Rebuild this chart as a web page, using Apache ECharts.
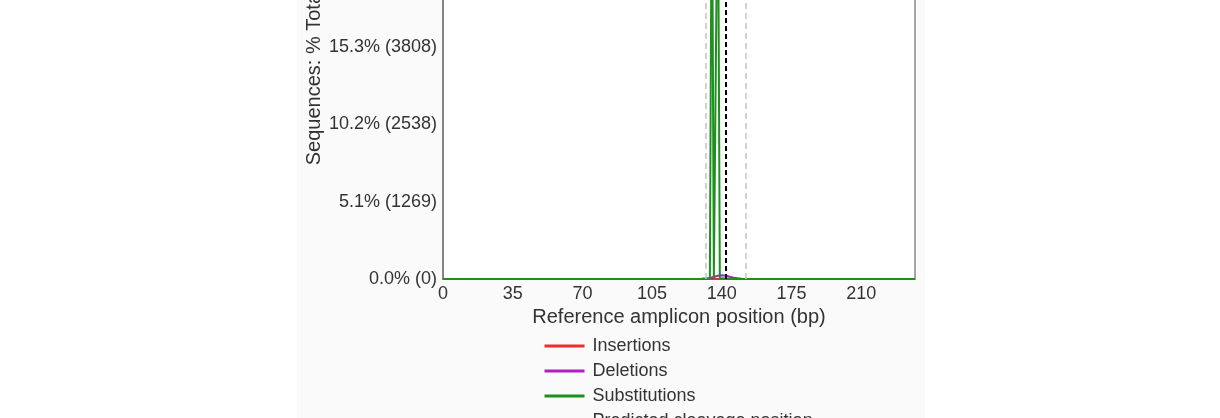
<!DOCTYPE html>
<html>
<head>
<meta charset="UTF-8">
<title></title>
<script src="https://cdn.jsdelivr.net/npm/echarts@6/dist/echarts.min.js"></script>
<style>
  html, body { margin: 0; padding: 0; background: #fff; }
  #main { width: 1220px; height: 418px; }
</style>
</head>
<body>
<div id="main"></div>
<script>
// positions (bp) and read counts
var insPos = [0, 130, 138, 140, 142, 150, 237];
var insVal = [0, 0, 2, 3, 2, 0, 0];

var delPos = [0, 126, 130, 132, 134, 136, 137, 138, 139, 140, 141, 142, 143, 144, 146, 148, 150, 153, 156, 237];
var delVal = [0, 0, 4, 9, 18, 32, 42, 52, 58, 62, 60, 54, 46, 36, 22, 12, 6, 2, 0, 0];

var subPos = [0, 126, 130, 132, 133, 134, 135, 136, 137, 138, 139, 140, 142, 145, 150, 155, 237];
var subVal = [0, 0, 3, 5, 8, 10, 7150, 12, 10, 7050, 14, 10, 8, 5, 2, 0, 0];

var cutSite = [142];
var quantWindow = [132, 152];

var xTicks = [0, 35, 70, 105, 140, 175, 210];
var yTickLabels = ['0.0% (0)', '5.1% (1269)', '10.2% (2538)', '15.3% (3808)',
                   '20.4% (5077)', '25.5% (6346)', '30.6% (7615)'];
var yStep = 1269.2;
var yMax = 7580;
var ampliconEnd = 237;

function pairs(xs, ys) {
  var out = [];
  for (var i = 0; i < xs.length; i++) out.push([xs[i], ys[i]]);
  return out;
}

var myChart = echarts.init(document.getElementById('main'), null, { renderer: 'canvas' });

var txt = '#333';
var font = 'Liberation Sans';

var option = {
  animation: false,
  backgroundColor: '#ffffff',
  textStyle: { fontFamily: font },
  graphic: [{
    type: 'rect',
    z: -10,
    silent: true,
    shape: { x: 297, y: 0, width: 628, height: 418 },
    style: { fill: '#fafafa' }
  }],
  grid: {
    left: 443,
    right: 305,
    bottom: 139,
    top: -183,
    show: true,
    backgroundColor: '#ffffff',
    borderColor: '#8a8a8a',
    borderWidth: 1.5,
    outerBoundsMode: 'none'
  },
  legend: {
    orient: 'vertical',
    left: 538,
    top: 332,
    height: 300,
    itemWidth: 40,
    itemHeight: 14,
    itemGap: 7,
    itemStyle: { opacity: 0 },
    lineStyle: { width: 3 },
    textStyle: { color: txt, fontSize: 18, fontFamily: font, padding: [0, 0, 0, 3] },
    data: ['Insertions', 'Deletions', 'Substitutions', 'Predicted cleavage position']
  },
  xAxis: {
    type: 'value',
    min: 0,
    max: ampliconEnd,
    interval: 35,
    name: 'Reference amplicon position (bp)',
    nameLocation: 'middle',
    nameGap: 25,
    nameTextStyle: { color: txt, fontSize: 20, fontFamily: font },
    axisLine: { show: true, lineStyle: { color: '#7a7a7a', width: 1.5 } },
    axisTick: { show: false },
    splitLine: { show: false },
    axisLabel: {
      color: txt, fontSize: 18, fontFamily: font, margin: 6,
      showMaxLabel: false,
      formatter: function (v) { return xTicks.indexOf(v) >= 0 ? String(v) : ''; }
    }
  },
  yAxis: {
    type: 'value',
    min: 0,
    max: yMax,
    interval: yStep,
    name: 'Sequences: % Total ( no. )',
    nameLocation: 'middle',
    nameGap: 119,
    nameTextStyle: { color: txt, fontSize: 20, fontFamily: font },
    axisLine: { show: true, lineStyle: { color: '#7a7a7a', width: 1.5 } },
    axisTick: { show: false },
    splitLine: { show: false },
    axisLabel: {
      color: txt, fontSize: 18, fontFamily: font, margin: 6,
      showMaxLabel: false,
      formatter: function (v) {
        var k = Math.round(v / yStep);
        return yTickLabels[k] || '';
      }
    }
  },
  series: [
    {
      name: 'Insertions', type: 'line', symbol: 'none',
      color: '#e8302e', lineStyle: { width: 2 },
      data: pairs(insPos, insVal),
      markLine: {
        silent: true, symbol: 'none', label: { show: false },
        lineStyle: { color: '#c4c4c4', type: [6, 4], width: 1.5 },
        data: quantWindow.map(function (p) { return { xAxis: p }; })
      }
    },
    {
      name: 'Deletions', type: 'line', symbol: 'none',
      color: '#b01fbf', lineStyle: { width: 2 },
      data: pairs(delPos, delVal)
    },
    {
      name: 'Substitutions', type: 'line', symbol: 'none',
      color: '#1f8f1f', lineStyle: { width: 2 },
      data: pairs(subPos, subVal)
    },
    {
      name: 'Predicted cleavage position', type: 'line', symbol: 'none',
      color: '#000', lineStyle: { width: 2, type: [5, 3] },
      data: [],
      markLine: {
        silent: true, symbol: 'none', label: { show: false },
        lineStyle: { color: '#000', type: [5, 3], width: 2 },
        data: cutSite.map(function (p) { return { xAxis: p }; })
      }
    }
  ]
};

myChart.setOption(option);
</script>
</body>
</html>
